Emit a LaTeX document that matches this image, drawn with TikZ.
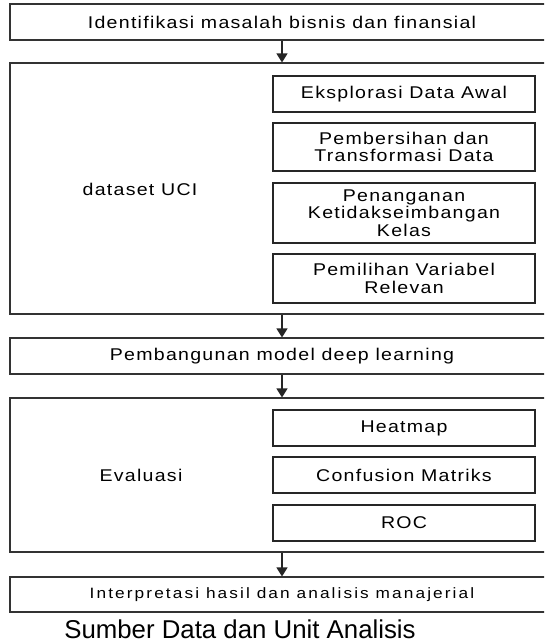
\documentclass[tikz,border=0pt]{standalone}
\usepackage{fontspec}
\setmainfont{Liberation Sans}
\newfontfamily\spaced{Liberation Sans}[FakeStretch=1.15, LetterSpace=7.5]
\newfontfamily\spacedw{Liberation Sans}[FakeStretch=1.15, LetterSpace=14]
\usetikzlibrary{arrows.meta}
\begin{document}
\begin{tikzpicture}[x=1pt,y=-1pt,
  outer/.style={draw=black!80, line width=1.1pt, inner sep=0pt, minimum width=544pt, align=center, font=\spaced\fontsize{17}{18}\selectfont},
  innerbox/.style={draw=black!85, line width=1.4pt, inner sep=0pt, minimum width=262pt, align=center, font=\spaced\fontsize{17}{17.5}\selectfont},
  flow/.style={-{Triangle[width=11pt,length=9pt]}, line width=1.1pt, draw=black!85},
  lbl/.style={font=\spaced\fontsize{17}{18}\selectfont}]
\useasboundingbox (0,0) rectangle (544,643);
\clip (0,0) rectangle (544,643);
\fill[white] (0,0) rectangle (544,643);
% outer boxes
\node[outer, minimum height=36pt] (ident) at (282,22) {Identifikasi masalah bisnis dan finansial};
\node[outer, minimum height=251pt] (uci) at (282,188.5) {};
\node[outer, minimum height=36pt] (model) at (282,356) {Pembangunan model deep learning};
\node[outer, minimum height=154pt] (eval) at (282,475) {};
\node[outer, minimum height=35pt, font=\spacedw\fontsize{15}{16}\selectfont] (interp) at (282,594.5) {Interpretasi hasil dan analisis manajerial};
% left labels
\node[lbl] (ucilbl) at (140,189) {dataset UCI};
\node[lbl] (evallbl) at (141,475) {Evaluasi};
% inner boxes
\node[innerbox, minimum height=36pt] (eksp) at (404,94) {Eksplorasi Data Awal};
\node[innerbox, minimum height=48pt] (pemb) at (404,147) {Pembersihan dan\\Transformasi Data};
\node[innerbox, minimum height=60pt] (pena) at (404,213) {Penanganan\\Ketidakseimbangan\\Kelas};
\node[innerbox, minimum height=49pt] (pemi) at (404,278.5) {Pemilihan Variabel\\Relevan};
\node[innerbox, minimum height=36pt] (heat) at (404,428) {Heatmap};
\node[innerbox, minimum height=36pt] (conf) at (404,475) {Confusion Matriks};
\node[innerbox, minimum height=36pt] (roc) at (404,523) {ROC};
% connectors
\draw[flow] (ident.south) -- (uci.north);
\draw[flow] (uci.south) -- (model.north);
\draw[flow] (model.south) -- (eval.north);
\draw[flow] (eval.south) -- (interp.north);
% caption
\node[anchor=base, font=\fontsize{25.8}{28}\selectfont, inner sep=0pt] (caption) at (240,638.5) {Sumber Data dan Unit Analisis};
\end{tikzpicture}
\end{document}
